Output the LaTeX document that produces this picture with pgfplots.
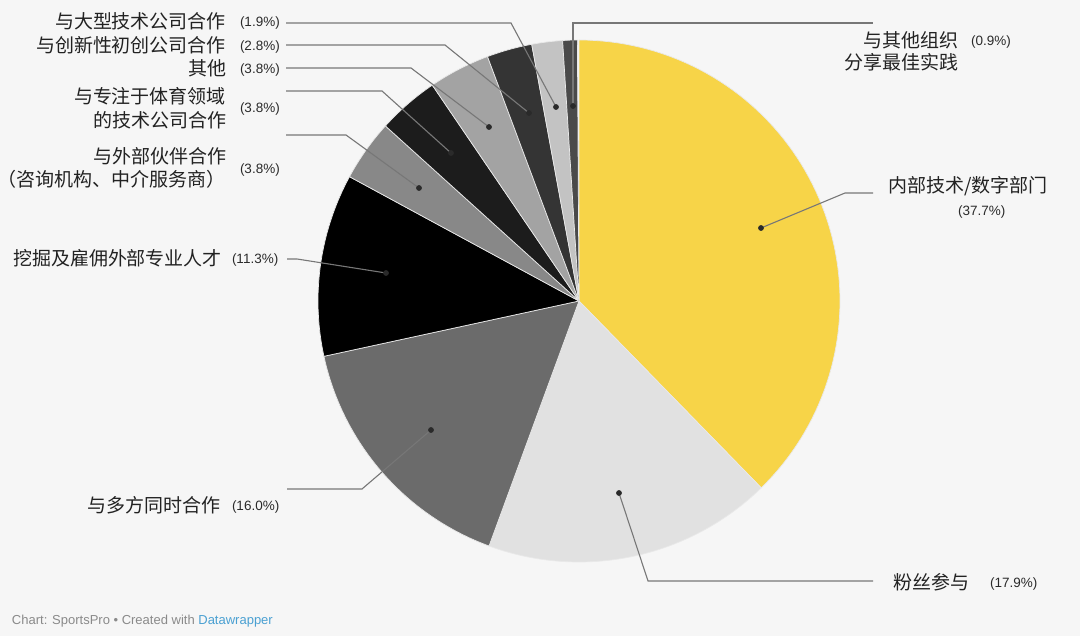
\documentclass[border=0pt]{standalone}
\usepackage{pgfplots}
\pgfplotsset{compat=1.18}
\usepackage{fontspec}
\setmainfont{Liberation Sans}
\newfontfamily\cjk{Noto Sans CJK SC}
\definecolor{bg}{HTML}{F6F6F6}
\definecolor{s1}{HTML}{F7D448}
\definecolor{s2}{HTML}{E1E1E1}
\definecolor{s3}{HTML}{6B6B6B}
\definecolor{s4}{HTML}{000000}
\definecolor{s5}{HTML}{888888}
\definecolor{s6}{HTML}{1C1C1C}
\definecolor{s7}{HTML}{A3A3A3}
\definecolor{s8}{HTML}{343434}
\definecolor{s9}{HTML}{C3C3C3}
\definecolor{s10}{HTML}{4A4A4A}
\definecolor{sep}{HTML}{E9E9E9}
\definecolor{lead}{HTML}{777777}
\definecolor{txt}{HTML}{222222}
\definecolor{pct}{HTML}{2A2A2A}
\definecolor{foot}{HTML}{8A8A8A}
\definecolor{dw}{HTML}{4AA0D2}
% slice: start% end% colour  (clockwise from 12 o'clock)
\newcommand{\slice}[3]{%
  \addplot[fill=#3, draw=sep, line width=0.7pt, line join=round, domain=#1:#2, samples=80]
    ({579+261*sin(3.6*x)},{335+261*cos(3.6*x)}) -- (579,335) -- cycle;}
\newcommand{\lab}[1]{{\cjk\fontsize{19}{23}\selectfont\color{txt}#1}}
\newcommand{\pc}[1]{{\fontsize{13.5}{15}\selectfont\color{pct}#1}}
\begin{document}
\begin{tikzpicture}
\path[use as bounding box] (0,0) rectangle (1080pt,636pt);
\fill[bg] (0,0) rectangle (1080pt,636pt);
\begin{axis}[at={(0,0)}, anchor=south west, scale only axis,
  width=1080pt, height=636pt, xmin=0, xmax=1080, ymin=0, ymax=636,
  hide axis, clip=false]
% values: 37.7, 17.9, 16.0, 11.3, 3.8, 3.8, 3.8, 2.8, 1.9, 0.9
\slice{0}{37.7}{s1}
\slice{37.7}{55.6}{s2}
\slice{55.6}{71.6}{s3}
\slice{71.6}{82.9}{s4}
\slice{82.9}{86.7}{s5}
\slice{86.7}{90.5}{s6}
\slice{90.5}{94.3}{s7}
\slice{94.3}{97.1}{s8}
\slice{97.1}{99.0}{s9}
\slice{99.0}{99.9}{s10}
% leader lines
\pgfplotsset{leader/.style={lead, line width=1.1pt, mark=*, mark indices={1}, mark size=2.3pt, mark options={fill=pct, draw=pct}}}
\addplot[leader] coordinates {(556,529) (511,613) (286,613)};
\addplot[leader] coordinates {(529,523) (445,591) (286,591)};
\addplot[leader] coordinates {(489,509) (411,568) (286,568)};
\addplot[leader] coordinates {(451,483) (382,545) (286,545)};
\addplot[leader] coordinates {(419,448) (346,501) (286,501)};
\addplot[leader] coordinates {(386,363) (297,377) (287,377)};
\addplot[leader] coordinates {(431,206) (362,147) (287,147)};
\addplot[leader] coordinates {(619,143) (648,55) (873,55)};
\addplot[leader] coordinates {(761,408) (845,443) (873,443)};
\addplot[leader] coordinates {(573,530) (573,613) (873,613)};
% labels
\tikzset{every node/.style={inner sep=0pt, outer sep=0pt}}
\node[anchor=base east] at (226,607) {\lab{与大型技术公司合作}};
\node[anchor=base west] at (240,609.5) {\pc{(1.9\%)}};
\node[anchor=base east] at (226,583) {\lab{与创新性初创公司合作}};
\node[anchor=base west] at (240,585.5) {\pc{(2.8\%)}};
\node[anchor=base east] at (226,560) {\lab{其他}};
\node[anchor=base west] at (240,562.5) {\pc{(3.8\%)}};
\node[anchor=base east] at (226,532) {\lab{与专注于体育领域}};
\node[anchor=base east] at (226,508) {\lab{的技术公司合作}};
\node[anchor=base west] at (240,523.5) {\pc{(3.8\%)}};
\node[anchor=base east] at (226,472) {\lab{与外部伙伴合作}};
\node[anchor=base east] at (226,449) {\lab{（咨询机构、中介服务商）}};
\node[anchor=base west] at (240,462.5) {\pc{(3.8\%)}};
\node[anchor=base east] at (222,370) {\lab{挖掘及雇佣外部专业人才}};
\node[anchor=base west] at (232,372.5) {\pc{(11.3\%)}};
\node[anchor=base east] at (220,123) {\lab{与多方同时合作}};
\node[anchor=base west] at (232,125.5) {\pc{(16.0\%)}};
\node[anchor=base west] at (893,46) {\lab{粉丝参与}};
\node[anchor=base west] at (990,48.5) {\pc{(17.9\%)}};
\node[anchor=base west] at (888,443) {\lab{内部技术/数字部门}};
\node[anchor=base west] at (958,420.5) {\pc{(37.7\%)}};
\node[anchor=base east] at (958,588) {\lab{与其他组织}};
\node[anchor=base east] at (958,566) {\lab{分享最佳实践}};
\node[anchor=base west] at (971,590.5) {\pc{(0.9\%)}};
\node[anchor=base west] at (12,11) {\fontsize{13}{15}\selectfont\color{foot}Chart: SportsPro \textbullet{} Created with \textcolor{dw}{Datawrapper}};
\end{axis}
\end{tikzpicture}
\end{document}
